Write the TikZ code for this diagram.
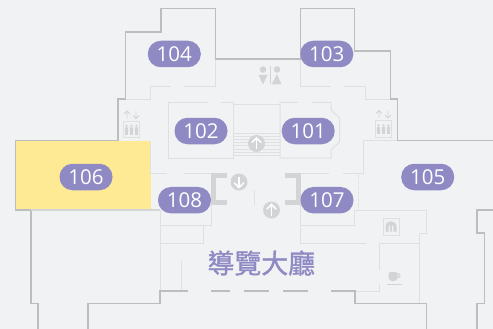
\documentclass[tikz,border=0pt]{standalone}
\usepackage{fontspec}
\setmainfont{Open Sans}
\newfontfamily\cjk{Noto Sans CJK TC}[FakeBold=1.2]
\definecolor{bgc}{HTML}{F1F2F4}
\definecolor{pill}{HTML}{8F8AC3}
\definecolor{wall}{HTML}{BBBDBF}
\definecolor{lite}{HTML}{DFE0E2}
\definecolor{icon}{HTML}{D3D4D6}
\definecolor{yel}{HTML}{FEE995}
\tikzset{
  x=1pt,y=-1pt,
  wallline/.style={draw=wall,line width=1.1pt},
  liteline/.style={draw=lite,line width=1pt},
  stairline/.style={draw=lite,line width=0.8pt},
  room/.style={fill=pill,text=white,rounded corners=13pt,minimum width=53pt,minimum height=26.5pt,inner sep=0pt,font=\fontsize{20.5}{21}\selectfont},
  iconfill/.style={fill=icon,draw=none},
  arr/.style={draw=white,line width=1.5pt},
  lift/.pic={
    \draw[liteline] (-8,-8.5) rectangle (8,8);
    \foreach \i in {-5,0,5}{
      \fill[icon] (\i,-3.6) circle (1.3);
      \fill[icon,rounded corners=0.6pt] (\i-1.7,-2.2) rectangle (\i+1.7,2.4);
      \fill[icon] (\i-1.1,2) rectangle (\i+1.1,5.4);
    }
    \draw[draw=icon,line width=0.8pt] (-4.5,-11) -- (-4.5,-18.5) (-7.5,-15.5) -- (-4.5,-18.5) -- (-1.5,-15.5);
    \draw[draw=icon,line width=0.8pt] (4.5,-18.5) -- (4.5,-11) (1.5,-14) -- (4.5,-11) -- (7.5,-14);
  }
}
\begin{document}
\begin{tikzpicture}
\useasboundingbox (0,0) rectangle (493,329);
\fill[bgc] (0,0) rectangle (493,329);
% yellow room
\fill[yel] (15.5,140.5) rectangle (151,210);
% light inner walls
\draw[liteline] (215.5,59) -- (215.5,86.5) -- (184,86.5);
\draw[liteline] (170.5,86.5) -- (150.5,86.5) -- (150.5,99.5) -- (118,99.5);
\draw[liteline] (220.5,102.5) -- (233,102.5) -- (233,158) -- (168.5,158) -- (168.5,102.5) -- (208,102.5);
\draw[liteline] (233,104.5) -- (280,104.5);
\draw[liteline] (298,102.5) -- (280,102.5) -- (280,158) -- (331,158) -- (331,150) -- (339.5,142) -- (339.5,118) -- (331,110) -- (331,102.5) -- (312,102.5);
\foreach \y in {133,136.2,...,156.5}{\draw[stairline] (233,\y) -- (280,\y);}
\draw[liteline] (300.3,59) -- (300.3,86.5) -- (331,86.5);
\draw[liteline] (344,86.5) -- (365.5,86.5) -- (365.5,99.5) -- (390.3,99.5);
\draw[liteline] (363.5,173) -- (363.5,140.5) -- (397.5,140.5);
\draw[liteline] (150.5,140.5) -- (150.5,173) -- (167,173);
\draw[liteline] (184,173) -- (211.5,173) -- (211.5,225.5) -- (160,225.5);
\draw[liteline] (160,243.5) -- (203.5,243.5) -- (203.5,225.5);
\draw[liteline] (160,210) -- (160,291);
\draw[liteline] (181.5,261) -- (181.5,291);
\draw[liteline] (329,173) -- (300.3,173) -- (300.3,243.5) -- (366,243.5);
\draw[liteline] (343,173) -- (363.5,173);
\draw[draw=lite,line width=0.7pt,densely dotted] (358.5,173) -- (358.5,210);
\draw[liteline] (300.3,225.5) -- (354,225.5) -- (354,210) -- (426.5,210) -- (426.5,233) -- (419.5,233) -- (419.5,303.5);
\draw[liteline] (419.5,243.5) -- (379.5,243.5) -- (379.5,270);
\draw[liteline] (379.5,284) -- (379.5,291) -- (355,291);
\draw[liteline] (254.5,190) -- (254.5,204.5);
% outer walls
\draw[wallline] (16,140.5) -- (118,140.5) -- (118,99) -- (125.5,99) -- (125.5,32) -- (161,32) -- (161,8.5) -- (215.5,8.5) -- (215.5,59) -- (300.3,59) -- (300.3,8.5) -- (354.7,8.5) -- (354.7,51) -- (390.3,51) -- (390.3,99) -- (397.5,99) -- (397.5,140.5) -- (493,140.5);
\draw[wallline] (15.5,140) -- (15.5,210) -- (31,210) -- (31,303.3) -- (38,303.3) -- (38,329);
\draw[wallline,draw=lite!70!wall] (31,210) -- (160,210);
\draw[wallline] (88,329) -- (88,303.5) -- (160,303.5) -- (160,291) -- (188,291);
\draw[wallline] (211,291) -- (230,291) (244,291) -- (269,291) (283,291) -- (308,291);
\draw[wallline] (331,291) -- (355,291) -- (355,303.5) -- (426.5,303.5) -- (426.5,329);
\draw[wallline] (477,329) -- (477,303.5) -- (484.5,303.5) -- (484.5,233) -- (477,233) -- (477,210) -- (493,210);
% brackets
\draw[icon,line width=5pt] (226.5,175.3) -- (213.5,175.3) -- (213.5,202.5) -- (226.5,202.5);
\draw[icon,line width=5pt] (284.5,175.3) -- (298,175.3) -- (298,202.5) -- (284.5,202.5);
% direction circles
\foreach \n/\cx/\cy/\s in {a/239/182/-1,b/271.5/210/1,c/256.5/143.5/1}{
  \fill[icon] (\cx,\cy) circle (8.5);
  \draw[arr] (\cx,\cy-\s*5.5) -- (\cx,\cy+\s*5.5);
  \draw[arr] (\cx-4.8,\cy-\s*0.8) -- (\cx,\cy-\s*5.5) -- (\cx+4.8,\cy-\s*0.8);
}
% lifts
\pic at (131.5,129.5) {lift};
\pic at (383.5,129) {lift};
% toilets
\fill[icon] (263,69.5) circle (3.3) (277,69.5) circle (3.3);
\fill[icon] (258.5,75) -- (267.5,75) -- (263,84.5) -- cycle;
\fill[icon] (277,74) -- (281.5,84.5) -- (271.5,84.5) -- cycle;
\draw[icon,line width=0.8pt] (270,66) -- (270,84.5);
% shop
\draw[liteline] (383,218) rectangle (399,235);
\fill[icon] (385.5,231.5) -- (385.5,226.5) .. controls (385.5,219.5) and (396.5,219.5) .. (396.5,226.5) -- (396.5,231.5) -- cycle;
\fill[bgc] (388.6,225.5) rectangle (390,231.5) (392,225.5) rectangle (393.4,231.5);
% cup
\fill[icon,rounded corners=1.5pt] (388.5,272) -- (397.5,272) -- (397.5,279) -- (395.5,281) -- (390.5,281) -- (388.5,279) -- cycle;
\draw[icon,line width=1.2pt] (397,273.7) .. controls (401,273.2) and (401,278) .. (397,277.5);
\draw[icon,line width=1.2pt] (387,284.3) -- (402,284.3);
% rooms
\node[room] (r104) at (174.3,54) {104};
\node[room] (r103) at (326.8,54) {103};
\node[room] (r102) at (201,131) {102};
\node[room] (r101) at (308.2,131) {101};
\node[room] (r106) at (86,177) {106};
\node[room] (r108) at (184.5,200.2) {108};
\node[room] (r107) at (327,200.2) {107};
\node[room] (r105) at (427.7,177) {105};
\node[text=pill,inner sep=0pt,font=\cjk\fontsize{26.9}{27}\selectfont] (hall) at (261.3,263) {導覽大廳};
\end{tikzpicture}
\end{document}
